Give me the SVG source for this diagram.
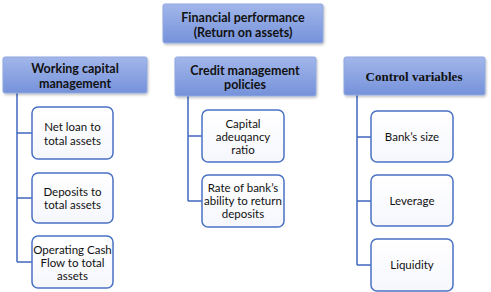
<svg xmlns="http://www.w3.org/2000/svg" width="491" height="292" viewBox="0 0 491 292">
<defs>
<linearGradient id="hg" x1="0" y1="0" x2="0" y2="1">
<stop offset="0" stop-color="#a2b6ea"/>
<stop offset="1" stop-color="#7592da"/>
</linearGradient>
<linearGradient id="cg" x1="0" y1="0" x2="0" y2="1">
<stop offset="0" stop-color="#ffffff"/>
<stop offset="1" stop-color="#f6f7fd"/>
</linearGradient>
<filter id="sh" x="-10%" y="-10%" width="130%" height="140%">
<feDropShadow dx="1" dy="1.5" stdDeviation="1" flood-color="#000" flood-opacity="0.25"/>
</filter>
</defs>
<style>
.hd{fill:url(#hg);stroke:#8fa8e0;stroke-width:1;filter:url(#sh)}
.ch{fill:url(#cg);stroke:#4a72c4;stroke-width:1.5}
.ln{fill:none;stroke:#3f67bf;stroke-width:1.5}
.ht{font-family:Lato,"Liberation Sans",sans-serif;font-weight:bold;font-size:12.5px;fill:#111;text-anchor:middle}
.hs{font-family:"Liberation Serif",serif;font-weight:bold;font-size:13px;fill:#111;text-anchor:middle}
.ct{font-family:Lato,"Liberation Sans",sans-serif;font-size:11.5px;fill:#111;text-anchor:middle}
</style>
<rect width="491" height="292" fill="#fff"/>
<g id="connectors">
<path class="ln" d="M17 93 V262 M17 133 H32 M17 198 H32 M17 262 H32"/>
<path class="ln" d="M188 96 V201 M188 136 H202 M188 201 H202"/>
<path class="ln" d="M357 95 V265 M357 137 H371 M357 201 H371 M357 265 H371"/>
</g>
<g id="n-financial">
<rect class="hd" x="163" y="4" width="160" height="39" rx="2"/>
<text class="ht" x="243" y="21.5">Financial performance</text>
<text class="ht" x="243" y="37">(Return on assets)</text>
</g>
<g id="n-working">
<rect class="hd" x="3" y="57" width="144" height="36" rx="2"/>
<text class="ht" x="75" y="72.5">Working capital</text>
<text class="ht" x="75" y="87.5">management</text>
</g>
<g id="n-credit">
<rect class="hd" x="175" y="57" width="141" height="39" rx="2"/>
<text class="ht" x="245" y="74.5">Credit management</text>
<text class="ht" x="245" y="89">policies</text>
</g>
<g id="n-control">
<rect class="hd" x="344" y="57" width="141" height="38" rx="2"/>
<text class="hs" x="414" y="80.5">Control variables</text>
</g>
<g id="n-netloan">
<rect class="ch" x="32" y="107" width="81" height="52" rx="6"/>
<text class="ct" x="72.5" y="131">Net loan to</text>
<text class="ct" x="72.5" y="144.5">total assets</text>
</g>
<g id="n-deposits">
<rect class="ch" x="32" y="173" width="81" height="50" rx="6"/>
<text class="ct" x="72.5" y="196">Deposits to</text>
<text class="ct" x="72.5" y="208.5">total assets</text>
</g>
<g id="n-opcash">
<rect class="ch" x="32" y="236" width="81" height="52" rx="6"/>
<text class="ct" x="72.5" y="253.5">Operating Cash</text>
<text class="ct" x="72.5" y="266.5">Flow to total</text>
<text class="ct" x="72.5" y="279.5">assets</text>
</g>
<g id="n-capital">
<rect class="ch" x="202" y="110" width="82" height="52" rx="6"/>
<text class="ct" x="243" y="127.5">Capital</text>
<text class="ct" x="243" y="140.5">adeuqancy</text>
<text class="ct" x="243" y="153.5">ratio</text>
</g>
<g id="n-rate">
<rect class="ch" x="202" y="175" width="82" height="52" rx="6"/>
<text class="ct" x="243" y="192">Rate of bank’s</text>
<text class="ct" x="243" y="205">ability to return</text>
<text class="ct" x="243" y="218">deposits</text>
</g>
<g id="n-size">
<rect class="ch" x="371" y="111" width="82" height="51" rx="6"/>
<text class="ct" x="412" y="141">Bank’s size</text>
</g>
<g id="n-leverage">
<rect class="ch" x="371" y="175" width="82" height="51" rx="6"/>
<text class="ct" x="412" y="205">Leverage</text>
</g>
<g id="n-liquidity">
<rect class="ch" x="371" y="239" width="82" height="52" rx="6"/>
<text class="ct" x="412" y="269">Liquidity</text>
</g>
</svg>
